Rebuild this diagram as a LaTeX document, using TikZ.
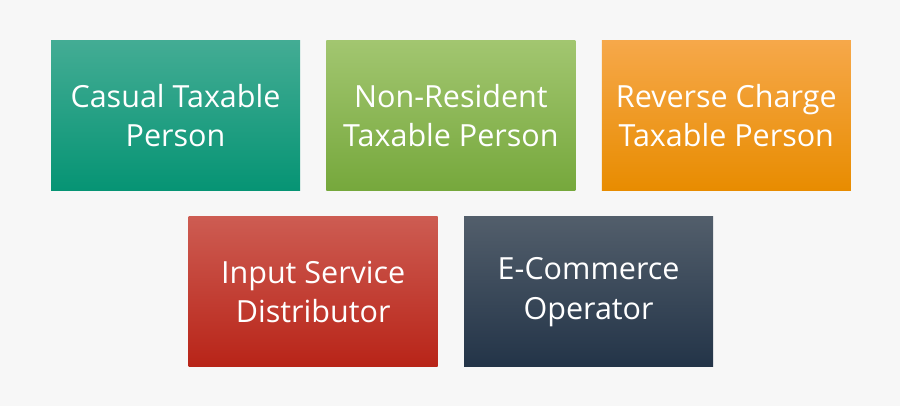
\documentclass[tikz,border=0pt]{standalone}
\usepackage{fontspec}
\setmainfont{Open Sans}
\usetikzlibrary{positioning,calc}
\definecolor{pagebg}{HTML}{F7F7F7}
\definecolor{tealtop}{RGB}{67,172,148}
\definecolor{tealmid}{RGB}{14,162,130}
\definecolor{tealbot}{RGB}{6,148,116}
\definecolor{limetop}{RGB}{162,198,112}
\definecolor{limemid}{RGB}{138,185,82}
\definecolor{limebot}{RGB}{118,168,60}
\definecolor{ambertop}{RGB}{246,168,74}
\definecolor{ambermid}{RGB}{254,160,10}
\definecolor{amberbot}{RGB}{232,140,0}
\definecolor{redtop}{RGB}{205,92,82}
\definecolor{redmid}{RGB}{194,48,36}
\definecolor{redbot}{RGB}{184,36,24}
\definecolor{slatetop}{RGB}{82,94,107}
\definecolor{slatemid}{RGB}{42,58,78}
\definecolor{slatebot}{RGB}{35,52,72}
\tikzset{
  gstbox/.style={minimum width=249pt, minimum height=150pt, inner sep=0pt,
    text=white, align=center, font=\fontsize{30.5}{39.5}\selectfont},
  teal/.style={top color=tealtop, middle color=tealmid, bottom color=tealbot},
  lime/.style={top color=limetop, middle color=limemid, bottom color=limebot},
  amber/.style={top color=ambertop, middle color=ambermid, bottom color=amberbot},
  brick/.style={top color=redtop, middle color=redmid, bottom color=redbot},
  slate/.style={top color=slatetop, middle color=slatemid, bottom color=slatebot}
}
\begin{document}
\begin{tikzpicture}
        \fill[pagebg] (0,0) rectangle (900pt,-406pt);
        \useasboundingbox (0,0) rectangle (900pt,-406pt);
        % top row
        \node[gstbox,teal] (casual) at (175.5pt,-115.5pt) {Casual Taxable\\Person};
        \node[gstbox,lime,right=26pt of casual] (nonres) {Non-Resident\\Taxable Person};
        \node[gstbox,amber,right=26pt of nonres] (reverse) {Reverse Charge\\Taxable Person};
        % bottom row
        \coordinate (gap) at ($(casual.south east)!0.5!(nonres.south west)$);
        \node[gstbox,brick,below=26pt of gap] (isd) {Input Service\\Distributor};
        \node[gstbox,slate,right=26pt of isd] (ecom) {E-Commerce\\Operator};
    \end{tikzpicture}
\end{document}
